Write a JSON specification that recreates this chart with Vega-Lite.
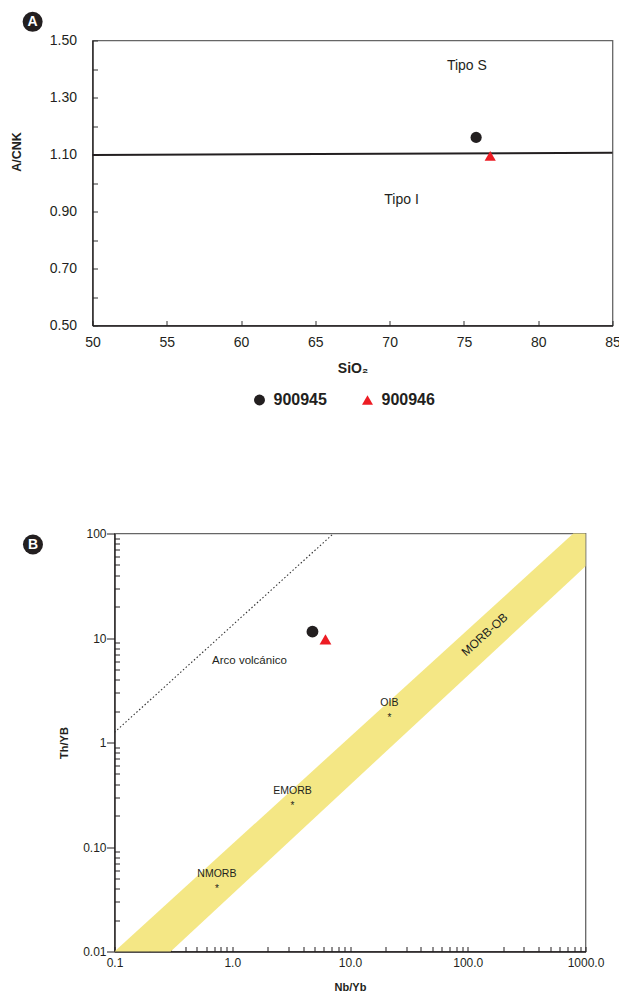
{
  "$schema": "https://vega.github.io/schema/vega-lite/v6.json",
  "background": "white",
  "padding": {"left": 9.5, "top": 10.5, "right": 0, "bottom": 0},
  "config": {
    "view": {"stroke": "#666666", "strokeWidth": 1.3},
    "font": "Liberation Sans",
    "axis": {"grid": false, "domainColor": "#231F20", "domainWidth": 1.3, "tickColor": "#333333", "tickWidth": 1, "labelColor": "#231F20", "titleColor": "#231F20", "labelFont": "Liberation Sans", "titleFont": "Liberation Sans"},
    "text": {"font": "Liberation Sans", "color": "#231F20"}
  },
  "resolve": {"legend": {"color": "independent", "shape": "independent"}},
  "bounds": "flush",
  "spacing": 208,
  "vconcat": [
    {
      "width": 520,
      "height": 285,
      "encoding": {
        "x": {"field": "x", "type": "quantitative", "scale": {"domain": [50, 85], "nice": false, "zero": false},
          "axis": {"title": "SiO₂", "values": [50, 55, 60, 65, 70, 75, 80, 85], "tickSize": -5, "labelPadding": 15, "labelFontSize": 14, "titleFontSize": 14, "titleFontWeight": "bold", "titleY": 36, "labelFlush": false}},
        "y": {"field": "y", "type": "quantitative", "scale": {"domain": [0.5, 1.5], "nice": false, "zero": false},
          "axis": {"title": "A/CNK", "values": [0.5, 0.6, 0.7, 0.8, 0.9, 1.0, 1.1, 1.2, 1.3, 1.4, 1.5], "labelExpr": "round(datum.value*10)%2==1 ? format(datum.value,'.2f') : ''", "tickSize": -5, "labelPadding": 21, "labelFontSize": 14, "titleFontSize": 12.5, "titleFontWeight": "bold", "titleX": -69, "titleY": 111, "labelFlush": false}}
      },
      "layer": [
        {
          "data": {"values": [{"x": 50, "y": 1.098}, {"x": 85, "y": 1.106}]},
          "mark": {"type": "line", "color": "#231F20", "strokeWidth": 2}
        },
        {
          "data": {"values": [{"label": "Tipo S", "x": 75.2, "y": 1.409}, {"label": "Tipo I", "x": 70.8, "y": 0.939}]},
          "mark": {"type": "text", "fontSize": 14, "baseline": "middle"},
          "encoding": {"text": {"field": "label"}}
        },
        {
          "data": {"values": [{"sample": "900945", "x": 75.82, "y": 1.160}, {"sample": "900946", "x": 76.77, "y": 1.095}]},
          "mark": {"type": "point", "filled": true, "opacity": 1, "size": 125},
          "encoding": {
            "shape": {"field": "sample", "type": "nominal", "scale": {"domain": ["900945", "900946"], "range": ["circle", "triangle-up"]},
              "legend": {"orient": "none", "legendX": 159, "legendY": 351.5, "direction": "horizontal", "title": null, "labelFontSize": 16, "labelFontWeight": "bold", "labelColor": "#231F20", "symbolSize": 120, "labelOffset": 6, "columnPadding": 32, "padding": 0}},
            "color": {"field": "sample", "type": "nominal", "scale": {"domain": ["900945", "900946"], "range": ["#231F20", "#ED1C24"]},
              "legend": {"orient": "none", "legendX": 159, "legendY": 351.5, "direction": "horizontal", "title": null, "labelFontSize": 16, "labelFontWeight": "bold", "labelColor": "#231F20", "symbolSize": 120, "labelOffset": 6, "columnPadding": 32, "padding": 0}}
          }
        },
        {
          "data": {"values": [{"badge": "A", "x": 45.97, "y": 1.5656}]},
          "mark": {"type": "point", "filled": true, "opacity": 1, "size": 400, "color": "#231F20"}
        },
        {
          "data": {"values": [{"badge": "A", "x": 45.97, "y": 1.5656}]},
          "mark": {"type": "text", "color": "white", "fontWeight": "bold", "fontSize": 14, "baseline": "middle", "dy": 0.5},
          "encoding": {"text": {"field": "badge"}}
        }
      ]
    },
    {
      "bounds": "flush",
      "spacing": 0,
      "hconcat": [
        {
          "width": 22,
          "height": 10,
          "view": {"stroke": null},
          "data": {"values": [{}]},
          "mark": {"type": "point", "opacity": 0}
        },
        {
          "width": 471,
          "height": 418,
          "encoding": {
            "x": {"field": "x", "type": "quantitative", "scale": {"type": "log", "domain": [0.1, 1000], "nice": false},
              "axis": {"title": "Nb/Yb", "values": [0.1, 0.2, 0.3, 0.4, 0.5, 0.6, 0.7, 0.8, 0.9, 1, 2, 3, 4, 5, 6, 7, 8, 9, 10, 20, 30, 40, 50, 60, 70, 80, 90, 100, 200, 300, 400, 500, 600, 700, 800, 900, 1000],
                "labelExpr": "datum.value==0.1?'0.1':datum.value==1?'1.0':datum.value==10?'10.0':datum.value==100?'100.0':datum.value==1000?'1000.0':''",
                "tickSize": -5, "labelPadding": 11, "labelFontSize": 12, "titleFontSize": 11, "titleFontWeight": "bold", "titleY": 30, "labelFlush": false, "labelOverlap": false, "tickColor": "#231F20"}},
            "y": {"field": "y", "type": "quantitative", "scale": {"type": "log", "domain": [0.01, 100], "nice": false},
              "axis": {"title": "Th/YB", "values": [0.01, 0.02, 0.03, 0.04, 0.05, 0.06, 0.07, 0.08, 0.09, 0.1, 0.2, 0.3, 0.4, 0.5, 0.6, 0.7, 0.8, 0.9, 1, 2, 3, 4, 5, 6, 7, 8, 9, 10, 20, 30, 40, 50, 60, 70, 80, 90, 100],
                "labelExpr": "datum.value==0.01?'0.01':datum.value==0.1?'0.10':datum.value==1?'1':datum.value==10?'10':datum.value==100?'100':''",
                "tickSize": {"condition": {"test": "indexof([0.01,0.1,1,10,100], datum.value) >= 0", "value": 8}, "value": -5},
                "labelPadding": 0.5, "labelFontSize": 12, "titleFontSize": 11, "titleFontWeight": "bold", "titleX": -45.5, "labelFlush": false, "labelOverlap": false, "tickColor": "#231F20"}}
          },
          "layer": [
            {
              "data": {"values": [{"x": 0.1, "y": 0.01, "y2": 0.01}, {"x": 0.30, "y": 0.01, "y2": 0.0309}, {"x": 787, "y": 37.8, "y2": 100}, {"x": 1000, "y": 48.7, "y2": 100}]},
              "mark": {"type": "area", "color": "#F4E785", "opacity": 1},
              "encoding": {"y2": {"field": "y2"}}
            },
            {
              "data": {"values": [{"x": 0.1, "y": 1.25}, {"x": 7.24, "y": 100}]},
              "mark": {"type": "line", "color": "#333333", "strokeWidth": 1.1, "strokeDash": [1.5, 2.2]}
            },
            {
              "data": {"values": [{"ref": "NMORB", "x": 0.74, "y": 0.042}, {"ref": "EMORB", "x": 3.25, "y": 0.261}, {"ref": "OIB", "x": 21.6, "y": 1.82}]},
              "mark": {"type": "text", "text": "*", "fontSize": 10, "baseline": "middle", "dy": 3}
            },
            {
              "data": {"values": [{"ref": "NMORB", "x": 0.74, "y": 0.042}, {"ref": "EMORB", "x": 3.25, "y": 0.261}, {"ref": "OIB", "x": 21.6, "y": 1.82}]},
              "mark": {"type": "text", "fontSize": 10.5, "baseline": "middle", "dy": -12},
              "encoding": {"text": {"field": "ref"}}
            },
            {
              "data": {"values": [{"label": "Arco volcánico", "x": 1.40, "y": 5.96}]},
              "mark": {"type": "text", "fontSize": 11.5, "baseline": "middle"},
              "encoding": {"text": {"field": "label"}}
            },
            {
              "data": {"values": [{"label": "MORB-OB", "x": 139, "y": 10.8}]},
              "mark": {"type": "text", "fontSize": 12, "baseline": "middle", "angle": -42},
              "encoding": {"text": {"field": "label"}}
            },
            {
              "data": {"values": [{"sample": "900945", "x": 4.80, "y": 11.5}, {"sample": "900946", "x": 6.19, "y": 9.68}]},
              "mark": {"type": "point", "filled": true, "opacity": 1, "size": 140},
              "encoding": {
                "shape": {"field": "sample", "type": "nominal", "scale": {"domain": ["900945", "900946"], "range": ["circle", "triangle-up"]}, "legend": null},
                "color": {"field": "sample", "type": "nominal", "scale": {"domain": ["900945", "900946"], "range": ["#231F20", "#ED1C24"]}, "legend": null}
              }
            },
            {
              "data": {"values": [{"badge": "B", "x": 0.0203, "y": 78.5}]},
              "mark": {"type": "point", "filled": true, "opacity": 1, "size": 400, "color": "#231F20"}
            },
            {
              "data": {"values": [{"badge": "B", "x": 0.0203, "y": 78.5}]},
              "mark": {"type": "text", "color": "white", "fontWeight": "bold", "fontSize": 14, "baseline": "middle", "dy": 0.5},
              "encoding": {"text": {"field": "badge"}}
            }
          ]
        }
      ]
    }
  ]
}
